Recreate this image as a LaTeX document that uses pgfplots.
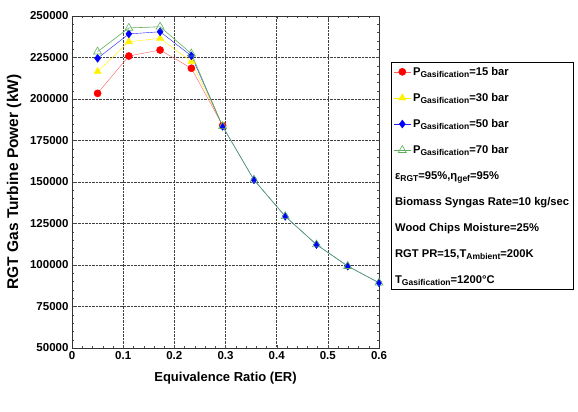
\documentclass[border=0pt]{standalone}
\usepackage{fontspec}
\setmainfont{Liberation Sans}
\usepackage{pgfplots}
\pgfplotsset{compat=1.18}
\definecolor{lred}{RGB}{255,95,95}
\definecolor{lyel}{RGB}{255,240,0}
\definecolor{lblue}{RGB}{30,30,255}
\definecolor{lgreen}{RGB}{95,175,95}
\newcommand{\sub}[1]{\raisebox{-0.35ex}{\fontsize{8.5}{9}\selectfont #1}}
\begin{document}
\begin{tikzpicture}
\begin{axis}[
    width=307pt, height=332pt, scale only axis,
    xmin=0, xmax=0.6, ymin=50000, ymax=250000,
    xtick={0,0.1,0.2,0.3,0.4,0.5,0.6},
    ytick={50000,75000,100000,125000,150000,175000,200000,225000,250000},
    minor x tick num=4, minor y tick num=4,
    scaled y ticks=false,
    /pgf/number format/fixed,
    /pgf/number format/precision=2,
    /pgf/number format/1000 sep={},
    /pgf/number format/assume math mode=true,
    tick label style={font=\fontsize{11.5}{13}\selectfont\bfseries},
    tick align=inside, major tick length=3pt, minor tick length=2pt,
    tick style={black!70},
    grid=major, grid style={densely dotted, black!75, line width=0.6pt},
    axis line style={black!80},
    xlabel={Equivalence Ratio (ER)},
    ylabel={RGT Gas Turbine Power (kW)},
    xlabel style={font=\bfseries\fontsize{13}{15}\selectfont, yshift=-6pt},
    ylabel style={font=\bfseries\fontsize{15.5}{18}\selectfont, yshift=2pt},
    legend style={at={(1.04,0.862)}, anchor=north west, draw=black,
        font=\bfseries\fontsize{11.2}{14}\selectfont, row sep=12.5pt,
        inner xsep=2pt, inner ysep=3pt},
    legend cell align=left,
    clip=false,
]
\addplot[lred, thin, mark=*, mark size=3.6pt, mark options={fill=red, draw=red}] coordinates {
    (0.05,203400) (0.1111,225900) (0.1722,229500) (0.2333,218500) (0.2944,184000)
};
\addlegendentry{P\sub{Gasification}=15 bar}
\addplot[lyel, thin, mark=triangle*, mark size=4.2pt, mark options={fill=yellow, draw=yellow}] coordinates {
    (0.05,216500) (0.1111,234500) (0.1722,236500) (0.2333,222500) (0.2944,184000)
};
\addlegendentry{P\sub{Gasification}=30 bar}
\addplot[lblue, thin, mark=diamond*, mark size=4pt, mark options={fill=blue, draw=blue}] coordinates {
    (0.05,224500) (0.1111,239200) (0.1722,240500) (0.2333,226000) (0.2944,183500)
    (0.3556,151300) (0.4167,129300) (0.4778,112300) (0.5389,99300) (0.6,89300)
};
\addlegendentry{P\sub{Gasification}=50 bar}
\addplot[lgreen, semithick, mark=triangle, mark size=4.6pt, mark options={fill=white, draw=lgreen}] coordinates {
    (0.05,228500) (0.1111,242800) (0.1722,243500) (0.2333,227300) (0.2944,183500)
    (0.3556,151300) (0.4167,129300) (0.4778,112300) (0.5389,99300) (0.6,89300)
};
\addlegendentry{P\sub{Gasification}=70 bar}
\addlegendimage{empty legend}
\addlegendentry{\hspace*{-18pt}ε\sub{RGT}=95\%,η\sub{gef}=95\%}
\addlegendimage{empty legend}
\addlegendentry{\hspace*{-18pt}Biomass Syngas Rate=10 kg/sec}
\addlegendimage{empty legend}
\addlegendentry{\hspace*{-18pt}Wood Chips Moisture=25\%}
\addlegendimage{empty legend}
\addlegendentry{\hspace*{-18pt}RGT PR=15,T\sub{Ambient}=200K}
\addlegendimage{empty legend}
\addlegendentry{\hspace*{-18pt}T\sub{Gasification}=1200°C}
\end{axis}
\path (current axis.south west) ++(-72pt,-64pt) rectangle ++(578pt,412pt);
\end{tikzpicture}
\end{document}
